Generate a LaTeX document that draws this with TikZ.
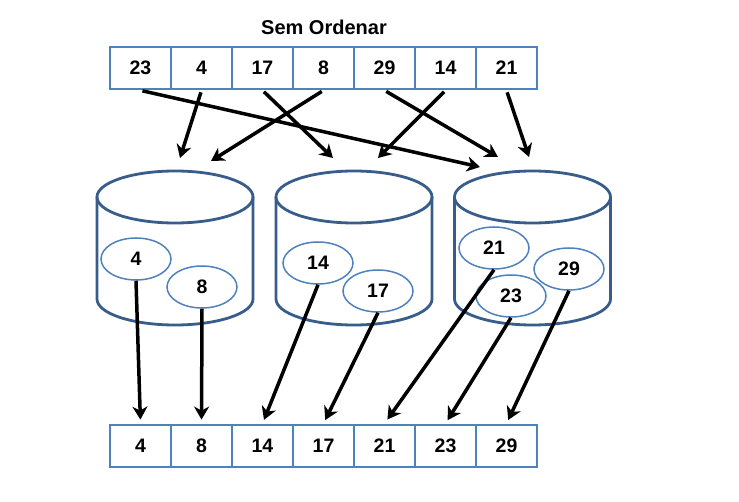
\documentclass[tikz,border=0pt]{standalone}
\usepackage{fontspec}
\setmainfont{Liberation Sans}
\usetikzlibrary{arrows.meta,shapes.geometric}
\definecolor{cellblue}{RGB}{79,129,189}
\definecolor{cylblue}{RGB}{56,93,138}
\definecolor{ellblue}{RGB}{79,129,189}
\begin{document}
\begin{tikzpicture}[x=1pt,y=-1pt,
  cell/.style={draw=cellblue,line width=2.8pt,minimum width=61pt,minimum height=42pt,inner sep=0pt,font=\fontsize{19.5}{22}\selectfont\bfseries},
  cyl/.style={draw=cylblue,line width=2.8pt},
  inner/.style={ellipse,draw=ellblue,line width=1.5pt,fill=white,minimum width=70pt,minimum height=42pt,inner sep=0pt,font=\fontsize{19.5}{22}\selectfont\bfseries},
  arr/.style={line width=3.5pt,-{Stealth[length=13pt,width=15pt,inset=4pt]}},
  ttl/.style={font=\fontsize{20}{22}\selectfont\bfseries}
]
\useasboundingbox[fill=white] (0,0) rectangle (739,502);

\node[ttl] (title) at (324,27) {Sem Ordenar};

% top array
\foreach \v [count=\i] in {23,4,17,8,29,14,21}
  \node[cell] (t\i) at ({140.5+61*(\i-1)},68) {\v};
% bottom array
\foreach \v [count=\i] in {4,8,14,17,21,23,29}
  \node[cell] (b\i) at ({140.5+61*(\i-1)},446) {\v};

% cylinders
\foreach \cx/\n in {175/1,354/2,532.5/3}{
  \draw[cyl,fill=white] (\cx-78,197) -- (\cx-78,299)
     arc[start angle=180,end angle=360,x radius=78pt,y radius=26pt] -- (\cx+78,197);
  \draw[cyl] (\cx,197) ellipse[x radius=78pt,y radius=26pt];
}

% arrow targets above cylinders
\coordinate (c1a) at (180,158);
\coordinate (c1b) at (211,161);
\coordinate (c2a) at (333,158);
\coordinate (c2b) at (378,158);
\coordinate (c3a) at (480,167);
\coordinate (c3b) at (498,157);
\coordinate (c3c) at (529,157);

% inner ellipses
\node[inner] (e4) at (136,259) {4};
\node[inner] (e8) at (202,287) {8};
\node[inner] (e14) at (318,263) {14};
\node[inner] (e17) at (378,291) {17};
\node[inner] (e21) at (494,248) {21};
\node[inner] (e29) at (569,269) {29};
\node[inner] (e23) at (511,296) {23};

% top arrows
\draw[arr,shorten <=2pt] (t1.south) -- (c3a);
\draw[arr,shorten <=2pt] (t2.south) -- (c1a);
\draw[arr,shorten <=2pt] (t3.south) -- (c2a);
\draw[arr,shorten <=2pt] (t4.south) -- (c1b);
\draw[arr,shorten <=2pt] (t5.south) -- (c3b);
\draw[arr,shorten <=2pt] (t6.south) -- (c2b);
\draw[arr,shorten <=2pt] (t7.south) -- (c3c);

% bottom arrows
\draw[arr,shorten >=4pt] (e4.south) -- (b1.north);
\draw[arr,shorten >=4pt] (e8.south) -- (b2.north);
\draw[arr,shorten >=4pt] (e14.south) -- (b3.north);
\draw[arr,shorten >=4pt] (e17.south) -- (b4.north);
\draw[arr,shorten >=5pt] (e21.south) -- (b5.north);
\draw[arr,shorten >=4pt] (e23.south) -- (b6.north);
\draw[arr,shorten >=4pt] (e29.south) -- (b7.north);
\end{tikzpicture}
\end{document}
